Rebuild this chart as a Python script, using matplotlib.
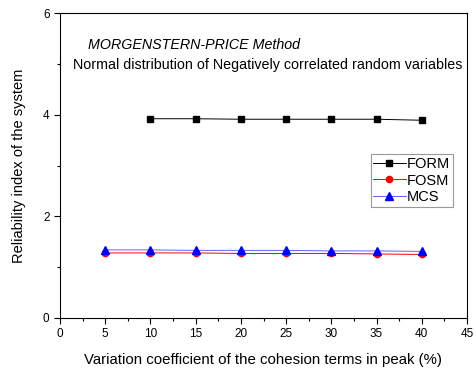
import matplotlib
matplotlib.use("Agg")
import matplotlib.pyplot as plt
from matplotlib.ticker import MultipleLocator

plt.rcParams['font.family'] = ['Liberation Sans', 'DejaVu Sans']

# data
cv_form = [10, 15, 20, 25, 30, 35, 40]
beta_form = [3.92, 3.92, 3.91, 3.91, 3.91, 3.91, 3.89]

cv_fosm = [5, 10, 15, 20, 25, 30, 35, 40]
beta_fosm = [1.28, 1.28, 1.28, 1.27, 1.27, 1.27, 1.26, 1.25]

cv_mcs = [5, 10, 15, 20, 25, 30, 35, 40]
beta_mcs = [1.34, 1.34, 1.33, 1.33, 1.33, 1.32, 1.32, 1.31]

fig = plt.figure(figsize=(4.77, 3.72), dpi=100)
ax = fig.add_axes([60 / 477, 1 - 318 / 372, 407 / 477, 305 / 372])

ax.plot(cv_form, beta_form, color="black", lw=0.7, marker="s", ms=4.5, label="FORM")
ax.plot(cv_fosm, beta_fosm, color="red", lw=0.7, marker="o", ms=4.5, label="FOSM")
ax.plot(cv_mcs, beta_mcs, color="#6060ff", lw=0.7, marker="^", ms=5.5,
        mfc="blue", mec="blue", label="MCS")

ax.set_xlim(0, 45)
ax.set_ylim(0, 6)
ax.xaxis.set_major_locator(MultipleLocator(5))
ax.xaxis.set_minor_locator(MultipleLocator(2.5))
ax.yaxis.set_major_locator(MultipleLocator(2))
ax.yaxis.set_minor_locator(MultipleLocator(1))
ax.tick_params(which="both", direction="out", labelsize=8.5, width=0.8)
ax.tick_params(which="major", length=4)
ax.tick_params(which="minor", length=2.5)

ax.set_xlabel("Variation coefficient of the cohesion terms in peak (%)", fontsize=10.8, labelpad=9)
ax.set_ylabel("Reliability index of the system", fontsize=10.5, labelpad=12)

ax.text(0.069, 0.882, "MORGENSTERN-PRICE Method", transform=ax.transAxes,
        fontsize=10.3, style="italic")
ax.text(0.032, 0.815, "Normal distribution of Negatively correlated random variables",
        transform=ax.transAxes, fontsize=10.3)

leg = ax.legend(loc="upper left", bbox_to_anchor=(0.745, 0.56), fontsize=10.5,
                frameon=True, fancybox=False, edgecolor="gray",
                handlelength=2.2, handletextpad=0.1, borderpad=0.2, labelspacing=0.15)
leg.get_frame().set_linewidth(0.8)

fig.savefig("out.png", dpi=100)
